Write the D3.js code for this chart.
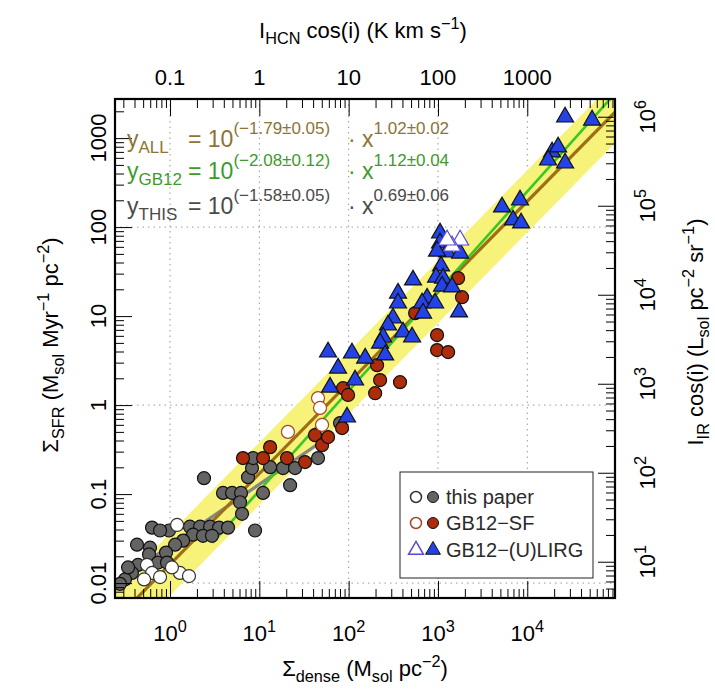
<!DOCTYPE html>
<html lang="en">
<head>
<meta charset="UTF-8">
<title>Sigma SFR vs Sigma dense</title>
<script src="https://d3js.org/d3.v7.min.js"></script>
<style>
  body { margin: 0; background: #fff; }
  svg text { font-family: "Liberation Sans", Arial, Helvetica, sans-serif; }
</style>
</head>
<body>
<div id="chart"></div>
<script>
// ---- data: [Sigma_dense (Msol pc^-2), Sigma_SFR (Msol Myr^-1 pc^-2)] ----
const thisPaperFilled = [
  [2.40,0.151],[3.92,0.103],[4.95,0.103],[6.24,0.103],[6.08,0.081],[6.40,0.060],
  [7.47,0.155],[8.28,0.196],[8.50,0.254],[8.95,0.039],[11.0,0.103],[13.2,0.201],
  [18.4,0.196],[25.1,0.196],[22.1,0.126],[0.629,0.042],[0.975,0.039],[1.67,0.043],
  [2.17,0.043],[2.81,0.043],[3.54,0.042],[4.46,0.042],[1.81,0.035],[2.34,0.034],
  [2.95,0.034],[1.40,0.030],[1.14,0.027],[0.427,0.027],[0.597,0.025],[0.902,0.022],
  [0.582,0.021],[0.734,0.017],[0.925,0.017],[0.438,0.016],[0.375,0.013],[0.313,0.011],
  [0.275,0.0098],[0.339,0.015],[0.773,0.039],[45.4,0.254],[80.1,0.628]
];
const thisPaperOpen = [
  [1.20,0.045],[0.552,0.016],[1.29,0.013],[1.63,0.012],[0.629,0.013],[0.512,0.011],
  [1.05,0.015],[0.773,0.0117]
];
const sfOpen = [[20.9,0.50],[45.4,1.20],[47.8,0.93],[50.4,0.60]];
const sfFilled = [
  [6.56,0.254],[11.0,0.254],[13.2,0.337],[20.4,0.254],[32.5,0.229],[42.0,0.46],
  [50.4,0.355],[58.8,0.437],[84.4,0.552],[86.5,1.55],[98.5,1.30],[208,2.81],
  [225,1.91],[198,1.36],[376,1.81],[555,10.8],[977,6.12],[977,4.15],[1300,3.94],
  [1680,26.7],[1860,16.3]
];
const lirgFilled = [
  [1056,85.6],[1056,66.1],[1265,52.4],[977,53.7],[1770,51.0],[1083,36.5],[953,27.4],
  [1141,26.7],[1111,21.7],[1439,21.2],[526,25.4],[357,18.1],[357,14.0],[755,15.9],
  [664,14.0],[929,14.0],[681,10.8],[1722,11.1],[314,9.50],[276,7.92],[406,6.61],
  [513,5.81],[243,5.81],[225,4.97],[256,3.65],[58.8,3.94],[109,3.84],[153,3.37],
  [76.1,2.60],[118,1.91],[61.9,1.59],[95.9,0.733],[26500,1722],[53200,1592],
  [18960,697],[22130,793],[17100,566],[26500,524],[5220,168],[8300,201],[6930,120],
  [8530,111]
];
const lirgOpen = [[1770,71.4],[1439,61.2],[1265,71.4]];

// fits: log y = a + b log x
const fitNames = ["ALL", "GB12", "THIS"];
const fitA = [-1.79, -2.08, -1.58];
const fitAErr = [0.05, 0.12, 0.05];
const fitB = [1.02, 1.12, 0.69];
const fitBErr = [0.02, 0.04, 0.06];
const fitRange = [[0.242, 96000], [3, 96000], [0.242, 60]];
const bandScatter = 0.35; // dex around the ALL fit

// tick labels
const bottomTickExp = [0, 1, 2, 3, 4];
const topTickLabels = ["0.1", "1", "10", "100", "1000"];
const leftTickLabels = ["0.01", "0.1", "1", "10", "100", "1000"];
const rightTickExp = [1, 2, 3, 4, 5, 6];
const gridX = [1, 10, 100, 1000, 10000];
const gridY = [0.01, 1, 100];

const legendLabels = ["this paper", "GB12\u2212SF", "GB12\u2212(U)LIRG"];

// axis conversions
const alphaHCN = 10;       // Sigma_dense per I_HCN
const irOffsetDex = 2.76;  // log I_IR - log Sigma_SFR

// ---- layout ----
const W = 715, H = 689;
const L = 115, R = 615, T = 99, B = 598;
const svg = d3.select("#chart").append("svg").attr("width", W).attr("height", H);

const x = d3.scaleLog().domain([0.242, 96000]).range([L, R]);
const y = d3.scaleLog().domain([0.0068, 2750]).range([B, T]);
const xTop = d3.scaleLog().domain(x.domain().map(d => d / alphaHCN)).range([L, R]);
const yR = d3.scaleLog().domain(y.domain().map(d => d * Math.pow(10, irOffsetDex))).range([B, T]);

const colors = {
  band: "#f7f37a", all: "#9e7016", gb12: "#3cc824", thisLine: "#858585",
  allText: "#8d7436", gbText: "#3e9a2c", thisText: "#4a4a4a",
  gray: "#646464", red: "#ad2c0c", redEdge: "#a8442a", blue: "#2343e6", blueEdge: "#5a48d8"
};

function rich(text, parts, size) {
  let shift = 0;
  parts.forEach(p => {
    const target = p.k === "sup" ? -size * 0.42 : p.k === "sub" ? size * 0.25 : 0;
    const ts = text.append("tspan").text(p.t).attr("dy", target - shift);
    if (p.k) ts.attr("font-size", size * 0.74);
    shift = target;
  });
  return text;
}

svg.append("defs").append("clipPath").attr("id", "plotclip")
  .append("rect").attr("x", L).attr("y", T).attr("width", R - L).attr("height", B - T);
const plot = svg.append("g").attr("clip-path", "url(#plotclip)");

// grid
plot.selectAll(".gx").data(gridX).join("line")
  .attr("x1", d => x(d)).attr("x2", d => x(d)).attr("y1", T).attr("y2", B)
  .attr("stroke", "#9a9a9a").attr("stroke-width", 1).attr("stroke-dasharray", "1.5,4");
plot.selectAll(".gy").data(gridY).join("line")
  .attr("y1", d => y(d)).attr("y2", d => y(d)).attr("x1", L).attr("x2", R)
  .attr("stroke", "#9a9a9a").attr("stroke-width", 1).attr("stroke-dasharray", "1.5,4");

// yellow band
const fitY = (i, v, off = 0) => Math.pow(10, fitA[i] + fitB[i] * Math.log10(v) + off);
const bandX = x.domain();
plot.append("path")
  .datum(bandX)
  .attr("d", d3.area().x(d => x(d)).y0(d => y(fitY(0, d, -bandScatter))).y1(d => y(fitY(0, d, bandScatter))))
  .attr("fill", colors.band);

// fit lines
const lineColors = [colors.all, colors.gb12, colors.thisLine];
const lineWidths = [3.2, 2.6, 3.2];
[2, 0, 1].forEach(i => {
  plot.append("path")
    .datum(fitRange[i])
    .attr("d", d3.line().x(d => x(d)).y(d => y(fitY(i, d))))
    .attr("stroke", lineColors[i]).attr("stroke-width", lineWidths[i]).attr("fill", "none");
});

// points
function circles(data, fill, stroke) {
  plot.append("g").selectAll("circle").data(data).join("circle")
    .attr("cx", d => x(d[0])).attr("cy", d => y(d[1])).attr("r", 6.5)
    .attr("fill", fill).attr("stroke", stroke).attr("stroke-width", 1.2);
}
function triangles(data, fill, stroke) {
  const sym = d3.symbol().type(d3.symbolTriangle).size(125);
  plot.append("g").selectAll("path").data(data).join("path")
    .attr("d", sym)
    .attr("transform", d => `translate(${x(d[0])},${y(d[1])})`)
    .attr("fill", fill).attr("stroke", stroke).attr("stroke-width", 1.2);
}
circles(thisPaperFilled, colors.gray, "#111");
circles(thisPaperOpen, "#fff", "#333");
circles(sfFilled, colors.red, "#111");
circles(sfOpen, "#fff", colors.redEdge);
triangles(lirgFilled, colors.blue, "#111");
triangles(lirgOpen, "#fff", colors.blueEdge);

// ticks (inward)
function isMajor(t) { const l = Math.log10(t); return Math.abs(l - Math.round(l)) < 1e-6; }
function tickAxis(axisFn, scale, tr) {
  const all = scale.ticks();
  const g1 = svg.append("g").attr("transform", tr)
    .call(axisFn(scale).tickValues(all.filter(t => !isMajor(t))).tickSize(-9).tickFormat(""));
  const g2 = svg.append("g").attr("transform", tr)
    .call(axisFn(scale).tickValues(all.filter(isMajor)).tickSize(-17).tickFormat(""));
  [g1, g2].forEach(g => { g.select(".domain").remove(); g.selectAll("line").attr("stroke", "#000"); });
}
tickAxis(d3.axisBottom, x, `translate(0,${B})`);
tickAxis(d3.axisTop, xTop, `translate(0,${T})`);
tickAxis(d3.axisLeft, y, `translate(${L},0)`);
tickAxis(d3.axisRight, yR, `translate(${R},0)`);

// frame
svg.append("rect").attr("x", L).attr("y", T).attr("width", R - L).attr("height", B - T)
  .attr("fill", "none").attr("stroke", "#000").attr("stroke-width", 2.2);

// tick labels
const fs = 22;
bottomTickExp.forEach(e => {
  rich(svg.append("text").attr("x", x(Math.pow(10, e))).attr("y", 641)
    .attr("text-anchor", "middle").attr("font-size", fs), [{ t: "10" }, { t: String(e), k: "sup" }], fs);
});
topTickLabels.forEach(lab => {
  svg.append("text").attr("x", xTop(+lab)).attr("y", 85).attr("text-anchor", "middle")
    .attr("font-size", fs).text(lab);
});
leftTickLabels.forEach(lab => {
  svg.append("text").attr("transform", `translate(106,${y(+lab)}) rotate(-90)`)
    .attr("text-anchor", "middle").attr("font-size", fs).text(lab);
});
rightTickExp.forEach(e => {
  rich(svg.append("text").attr("transform", `translate(655,${yR(Math.pow(10, e))}) rotate(-90)`)
    .attr("text-anchor", "middle").attr("font-size", fs), [{ t: "10" }, { t: String(e), k: "sup" }], fs);
});

// axis titles
rich(svg.append("text").attr("x", 363).attr("y", 38).attr("text-anchor", "middle").attr("font-size", fs),
  [{ t: "I" }, { t: "HCN", k: "sub" }, { t: " cos(i) (K km s" }, { t: "\u22121", k: "sup" }, { t: ")" }], fs);
rich(svg.append("text").attr("x", 365).attr("y", 676).attr("text-anchor", "middle").attr("font-size", fs),
  [{ t: "\u03A3" }, { t: "dense", k: "sub" }, { t: " (M" }, { t: "sol", k: "sub" }, { t: " pc" }, { t: "\u22122", k: "sup" }, { t: ")" }], fs);
rich(svg.append("text").attr("transform", "translate(58,345) rotate(-90)").attr("text-anchor", "middle").attr("font-size", fs),
  [{ t: "\u03A3" }, { t: "SFR", k: "sub" }, { t: " (M" }, { t: "sol", k: "sub" }, { t: " Myr" }, { t: "\u22121", k: "sup" },
   { t: " pc" }, { t: "\u22122", k: "sup" }, { t: ")" }], fs);
rich(svg.append("text").attr("transform", "translate(703,332) rotate(-90)").attr("text-anchor", "middle").attr("font-size", fs),
  [{ t: "I" }, { t: "IR", k: "sub" }, { t: " cos(i) (L" }, { t: "sol", k: "sub" }, { t: " pc" }, { t: "\u22122", k: "sup" },
   { t: " sr" }, { t: "\u22121", k: "sup" }, { t: ")" }], fs);

// fit formulas
const fitTextColors = [colors.allText, colors.gbText, colors.thisText];
const fitBase = [147, 179, 214];
fitNames.forEach((n, i) => {
  const c = fitTextColors[i];
  const t = svg.append("text").attr("y", fitBase[i]).attr("fill", c).attr("font-size", 23);
  t.append("tspan").attr("x", 127).text("y");
  t.append("tspan").attr("dy", 6).attr("font-size", 17).text(n);
  t.append("tspan").attr("x", 188).attr("dy", -6).text("= 10");
  t.append("tspan").attr("dy", -13).attr("font-size", 17)
    .text(`(\u2212${Math.abs(fitA[i]).toFixed(2)}\u00B1${fitAErr[i].toFixed(2)})`);
  t.append("tspan").attr("x", 348).attr("dy", 13).text("\u00B7 x");
  t.append("tspan").attr("dy", -13).attr("font-size", 17)
    .text(`${fitB[i].toFixed(2)}\u00B1${fitBErr[i].toFixed(2)}`);
});

// legend
const lg = svg.append("g");
lg.append("rect").attr("x", 400).attr("y", 472).attr("width", 193).attr("height", 106)
  .attr("fill", "#fff").attr("stroke", "#222").attr("stroke-width", 1);
const rowY = [497, 523, 550];
const legOpenStroke = ["#333", colors.redEdge, colors.blueEdge];
const legFill = [colors.gray, colors.red, colors.blue];
legendLabels.forEach((lab, i) => {
  if (i < 2) {
    lg.append("circle").attr("cx", 416).attr("cy", rowY[i]).attr("r", 5.5)
      .attr("fill", "#fff").attr("stroke", legOpenStroke[i]).attr("stroke-width", 1.5);
    lg.append("circle").attr("cx", 433).attr("cy", rowY[i]).attr("r", 5.5)
      .attr("fill", legFill[i]).attr("stroke", "#111").attr("stroke-width", 1);
  } else {
    const sym = d3.symbol().type(d3.symbolTriangle).size(95);
    lg.append("path").attr("d", sym).attr("transform", `translate(416,${rowY[i]})`)
      .attr("fill", "#fff").attr("stroke", legOpenStroke[i]).attr("stroke-width", 1.5);
    lg.append("path").attr("d", sym).attr("transform", `translate(433,${rowY[i]})`)
      .attr("fill", legFill[i]).attr("stroke", "#111").attr("stroke-width", 1);
  }
  lg.append("text").attr("x", 446).attr("y", rowY[i] + 7).attr("font-size", 20).attr("fill", "#2a2a2a").text(lab);
});
</script>
</body>
</html>
